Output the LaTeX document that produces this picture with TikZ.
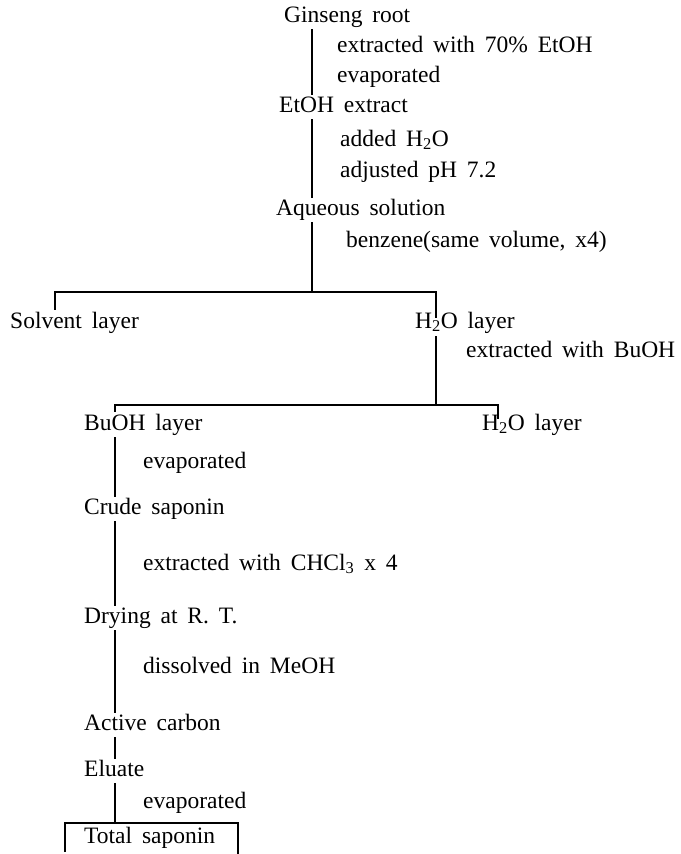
\documentclass[tikz,border=0pt]{standalone}
\usepackage{fontspec}
\setmainfont{Liberation Serif}
\newcommand\lblfont{\fontsize{23.5}{27}\selectfont\spaceskip=0.42em plus 0.1em minus 0.05em\relax}
\begin{document}
\begin{tikzpicture}[x=1pt,y=-1pt,
  lbl/.style={anchor=west, inner sep=0pt, text height=15pt, text depth=5pt, font=\lblfont},
  conn/.style={line width=1.1pt},
  gap/.style={shorten <=2pt, shorten >=2pt}]
\useasboundingbox (0,0) rectangle (680,854);
% nodes
\node[lbl] (ginseng) at (284,17) {Ginseng root};
\node[lbl] (s1a) at (337,47) {extracted with 70\% EtOH};
\node[lbl] (s1b) at (337,77) {evaporated};
\node[lbl] (etoh) at (279,107) {EtOH extract};
\node[lbl] (s2a) at (340,141) {added H\textsubscript{2}O};
\node[lbl] (s2b) at (340,172) {adjusted pH 7.2};
\node[lbl] (aq) at (276,210) {Aqueous solution};
\node[lbl] (s3) at (346,242) {benzene(same volume, x4)};
\node[lbl] (solv) at (10,323) {Solvent layer};
\node[lbl] (h2oa) at (415,323) {H\textsubscript{2}O layer};
\node[lbl] (s4) at (466,352) {extracted with BuOH};
\node[lbl] (buoh) at (84,425) {BuOH layer};
\node[lbl] (h2ob) at (482,425) {H\textsubscript{2}O layer};
\node[lbl] (s5) at (143,463) {evaporated};
\node[lbl] (crude) at (84,509) {Crude saponin};
\node[lbl] (s6) at (143,565) {extracted with CHCl\textsubscript{3} x 4};
\node[lbl] (dry) at (84,618) {Drying at R. T.};
\node[lbl] (s7) at (143,668) {dissolved in MeOH};
\node[lbl] (act) at (84,725) {Active carbon};
\node[lbl] (elu) at (84,771) {Eluate};
\node[lbl] (s8) at (143,803) {evaporated};
\node[lbl] (tot) at (84,838) {Total saponin};
% spine coordinates
\coordinate (A) at (312,0);
\coordinate (B) at (436,0);
\coordinate (C) at (115,0);
\coordinate (L) at (55,0);
\coordinate (R) at (498,0);
\coordinate (J1) at (312,292);
\coordinate (J2) at (436,405);
\coordinate (BT) at (0,823);
\coordinate (BL) at (65,0);
\coordinate (BR) at (238,0);
\coordinate (BB) at (0,852);
% connectors
\draw[conn,gap] (ginseng.south -| A) -- (etoh.north -| A);
\draw[conn,gap] (etoh.south -| A) -- (aq.north -| A);
\draw[conn,shorten <=2pt] (aq.south -| A) -- (J1);
\draw[conn,shorten <=3pt] (solv.north -| L) -- (J1 -| L) -- (J1 -| B) -- ([yshift=-5pt]h2oa.north -| B);
\draw[conn,shorten <=3pt] (h2oa.south -| B) -- (J2);
\draw[conn,shorten <=3pt] (buoh.north -| C) -- (J2 -| C) -- (J2 -| R) -- ([yshift=-4pt]h2ob.north -| R);
\draw[conn,gap] (buoh.south -| C) -- (crude.north -| C);
\draw[conn,gap] (crude.south -| C) -- (dry.north -| C);
\draw[conn,gap] (dry.south -| C) -- (act.north -| C);
\draw[conn,gap] (act.south -| C) -- (elu.north -| C);
\draw[conn,shorten <=2pt] (elu.south -| C) -- (BT -| C);
\draw[conn] (BB -| BL) -- (BT -| BL) -- (BT -| BR) -- ([yshift=-4pt]BB -| BR);
\end{tikzpicture}
\end{document}
